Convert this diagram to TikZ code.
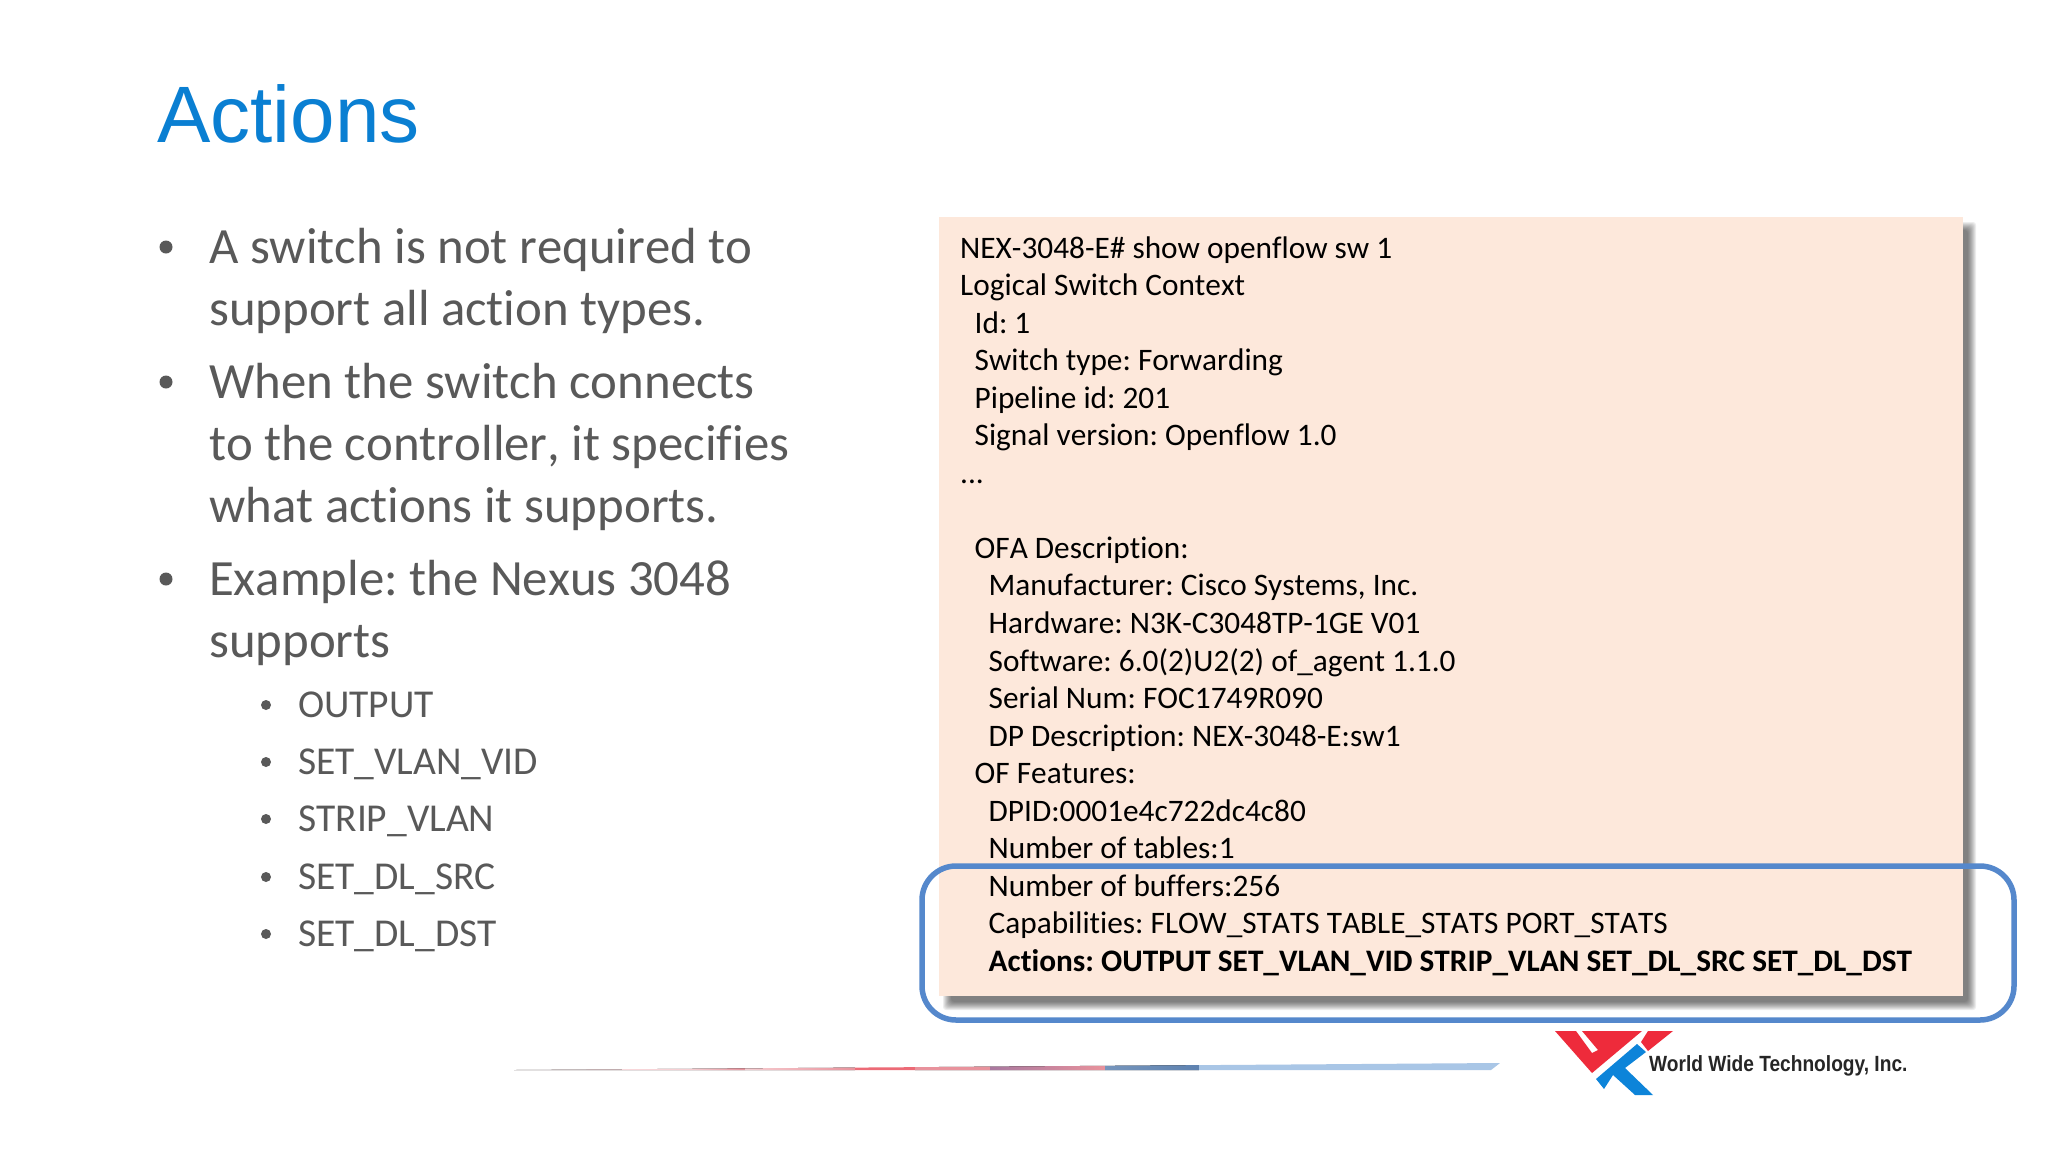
\documentclass[tikz,border=0pt]{standalone}
\usepackage{fontspec}
\usepackage{graphicx}
\setmainfont{Carlito}[Kerning=Off,RawFeature={-liga}]
\newfontfamily\titlefont{Liberation Sans}
\newfontfamily\logofont{Liberation Sans}
\definecolor{titleblue}{HTML}{0A7FD2}
\definecolor{bodygrey}{HTML}{595959}
\definecolor{boxpeach}{HTML}{FDE8DB}
\definecolor{ringblue}{HTML}{5588CC}
\definecolor{logored}{HTML}{EE2B3B}
\definecolor{logoblue}{HTML}{0D84D9}
\definecolor{rulelight}{HTML}{A9C6E6}
\definecolor{ruleslate}{HTML}{5E82B0}
\definecolor{rulemauve}{HTML}{A9789F}
\definecolor{rulerose}{HTML}{E8929C}
\definecolor{rulered}{HTML}{EC6A76}
\definecolor{rulepale}{HTML}{F6CDD1}
\newcommand{\fs}[1]{\fontsize{#1}{#1}\selectfont}
\frenchspacing
\tikzset{
  x=1pt,y=-1pt,
  bodyline/.style={anchor=base west,inner sep=0pt,text=bodygrey,font=\frenchspacing\fs{50.8}},
  subline/.style={anchor=base west,inner sep=0pt,text=bodygrey,font=\frenchspacing\fs{39.5}},
  dotmark/.style={circle,fill=bodygrey,inner sep=0pt},
  codeline/.style={anchor=base west,inner sep=0pt,text=black,font=\frenchspacing\fs{31.3}},
}
\begin{document}
\begin{tikzpicture}
\useasboundingbox (0,0) rectangle (2048,1152);
\fill[white] (0,0) rectangle (2048,1152);
\node[anchor=base west,inner sep=0pt,text=titleblue,font=\titlefont\fs{80}] (title) at (157,142) {Actions};
% left bullets
\foreach \n/\yy/\t in {b1/263/{A switch is not required to},b1b/325/{support all action types.},b2/398/{When the switch connects},b2c/460/{to the controller, it specifies},b2d/522/{what actions it supports.},b3/595/{Example: the Nexus 3048},b3b/657/{supports}}
  {\node[bodyline] (\n) at (209,\yy) {\t};}
\foreach \n/\yy in {d1/247,d2/382,d3/579}
  {\node[dotmark,minimum size=13pt] (\n) at (166,\yy) {};}
\foreach \n/\yy/\t in {s1/717/OUTPUT,s2/774/SET\_VLAN\_VID,s3/831/STRIP\_VLAN,s4/889/SET\_DL\_SRC,s5/946/SET\_DL\_DST}
  {\node[subline] (\n) at (298,\yy) {\t};}
\foreach \n/\yy in {e1/705,e2/762,e3/819,e4/877,e5/934}
  {\node[dotmark,minimum size=10pt] (\n) at (266,\yy) {};}
% code box with soft shadow
\foreach \k in {-4,-3,...,4}
  {\fill[black,opacity=.07,rounded corners=3pt] (947-\k,226-\k) rectangle (1972+\k,1006+\k);}
\node[draw=none,fill=boxpeach,minimum width=1024pt,minimum height=779pt,inner sep=0pt,anchor=north west] (box) at (939,217) {};
\foreach \n/\xx/\i/\t in {
 c0/960/0/{NEX-3048-E\# show openflow sw 1},
 c1/960/1/{Logical Switch Context},
 c2/974.5/2/{Id: 1},
 c3/974.5/3/{Switch type: Forwarding},
 c4/974.5/4/{Pipeline id: 201},
 c5/974.5/5/{Signal version: Openflow 1.0},
 c6/960/6/{...},
 c8/974.5/8/{OFA Description:},
 c9/988.5/9/{Manufacturer: Cisco Systems, Inc.},
 c10/988.5/10/{Hardware: N3K-C3048TP-1GE\ V01},
 c11/988.5/11/{Software: 6.0(2)U2(2) of\_agent 1.1.0},
 c12/988.5/12/{Serial Num: FOC1749R090},
 c13/988.5/13/{DP Description: NEX-3048-E:sw1},
 c14/974.5/14/{OF Features:},
 c15/988.5/15/{DPID:0001e4c722dc4c80},
 c16/988.5/16/{Number of tables:1},
 c17/988.5/17/{Number of buffers:256},
 c18/988.5/18/{Capabilities: FLOW\_STATS TABLE\_STATS PORT\_STATS},
 c19/988.5/19/{\bfseries Actions: OUTPUT SET\_VLAN\_VID STRIP\_VLAN SET\_DL\_SRC SET\_DL\_DST}}
 {\pgfmathsetmacro{\yy}{258+37.55*\i}
  \node[codeline] (\n) at (\xx,\yy) {\t};}
% highlight ring
\draw[ringblue,line width=5.5pt,rounded corners=34pt] (922,866) rectangle (2014,1020);
% gradient rule
\begin{scope}
\clip (514,1070) -- (1500,1063) -- (1491,1070) -- cycle;
\fill[left color=rulepale!40!white,right color=rulepale] (514,1060) rectangle (690,1075);
\fill[left color=rulepale,right color=rulerose] (690,1060) rectangle (745,1075);
\fill[left color=rulepale,right color=rulerose] (745,1060) rectangle (855,1075);
\fill[rulered] (855,1060) rectangle (915,1075);
\fill[left color=rulerose,right color=rulerose] (915,1060) rectangle (990,1075);
\fill[left color=rulemauve,right color=rulerose] (990,1060) rectangle (1105,1075);
\fill[left color=ruleslate!85!white,right color=ruleslate] (1105,1060) rectangle (1199,1075);
\fill[rulelight] (1199,1060) rectangle (1500,1075);
\end{scope}
% logo
\fill[logored] (1555,1031) -- (1576,1031) -- (1592,1053) -- (1598,1050) -- (1582,1031) -- (1642,1031) -- (1592,1073) -- cycle;
\fill[logored] (1648,1031) -- (1673,1031) -- (1648,1051) -- (1641,1042) -- cycle;
\fill[logoblue] (1637,1044) -- (1646,1052) -- (1625,1068) -- (1653,1095) -- (1635,1095) -- (1613,1075) -- (1604,1089) -- (1596,1079) -- cycle;
\node[anchor=base west,inner sep=0pt,text=black!85,font=\logofont\fs{22}\bfseries] (logotext) at (1649,1071) {\scalebox{0.87}[1]{World Wide Technology, Inc.}};
\end{tikzpicture}
\end{document}
